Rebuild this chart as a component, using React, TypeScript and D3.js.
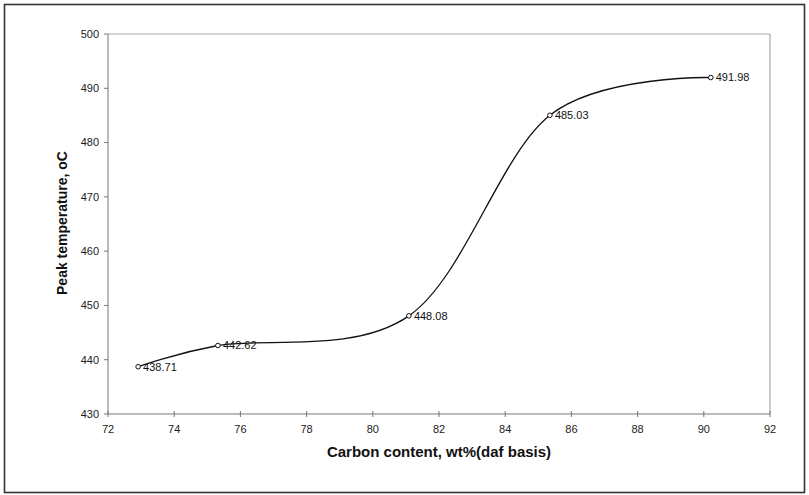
import React from "react";
import * as d3 from "d3";

const carbon = [72.91, 75.32, 81.09, 85.35, 90.21];
const peakTemp = [438.71, 442.62, 448.08, 485.03, 491.98];
const pointLabels = ["438.71", "442.62", "448.08", "485.03", "491.98"];
const xTicks = [72, 74, 76, 78, 80, 82, 84, 86, 88, 90, 92];
const yTicks = [430, 440, 450, 460, 470, 480, 490, 500];

const W = 809;
const H = 495;
const L = 108, R = 770, T = 34, B = 414;

export default function App() {
  const x = d3.scaleLinear().domain([72, 92]).range([L, R]);
  const y = d3.scaleLinear().domain([430, 500]).range([B, T]);
  const pts = carbon.map((c, i) => [c, peakTemp[i]] as [number, number]);
  const line = d3
    .line<[number, number]>()
    .x((d) => x(d[0]))
    .y((d) => y(d[1]))
    .curve(d3.curveCardinal.tension(0));
  const font = "'Liberation Sans', Arial, sans-serif";
  return (
    <svg
      width={W}
      height={H}
      style={{ position: "absolute", left: 0, top: 0, background: "#fff" }}
      fontFamily={font}
    >
      <rect x={0} y={0} width={W} height={H} fill="#fff" />
      <rect x={4.5} y={4.5} width={800} height={488} fill="none" stroke="#333" strokeWidth={1.6} />
      {/* plot border top/right */}
      <line x1={L} x2={R} y1={T} y2={T} stroke="#aaa" strokeWidth={1} />
      <line x1={R} x2={R} y1={T} y2={B} stroke="#999" strokeWidth={1} />
      {/* axes */}
      <line x1={L} x2={L} y1={T} y2={B} stroke="#777" strokeWidth={1} />
      <line x1={L} x2={R} y1={B} y2={B} stroke="#777" strokeWidth={1} />
      {yTicks.map((t) => (
        <g key={"y" + t}>
          <line x1={L - 4} x2={L} y1={y(t)} y2={y(t)} stroke="#777" />
          <text x={L - 9} y={y(t)} dy="0.35em" textAnchor="end" fontSize={11} fill="#222">
            {t}
          </text>
        </g>
      ))}
      {xTicks.map((t) => (
        <g key={"x" + t}>
          <line x1={x(t)} x2={x(t)} y1={B - 3} y2={B + 3} stroke="#777" />
          <text x={x(t)} y={B + 15} dy="0.35em" textAnchor="middle" fontSize={11} fill="#222">
            {t}
          </text>
        </g>
      ))}
      <path d={line(pts) ?? ""} fill="none" stroke="#111" strokeWidth={1.3} />
      {pts.map((p, i) => (
        <g key={"p" + i}>
          <circle cx={x(p[0])} cy={y(p[1])} r={2.3} fill="#fff" stroke="#111" strokeWidth={1} />
          <text x={x(p[0]) + 5} y={y(p[1])} dy="0.35em" fontSize={11} fill="#111">
            {pointLabels[i]}
          </text>
        </g>
      ))}
      <text x={(L + R) / 2} y={452} dy="0.35em" textAnchor="middle" fontSize={15} fontWeight="bold" fill="#111">
        Carbon content, wt%(daf basis)
      </text>
      <text
        transform={`translate(62, ${(T + B) / 2 - 1}) rotate(-90)`}
        dy="0.35em"
        textAnchor="middle"
        fontSize={14}
        fontWeight="bold"
        fill="#111"
      >
        Peak temperature, oC
      </text>
    </svg>
  );
}
